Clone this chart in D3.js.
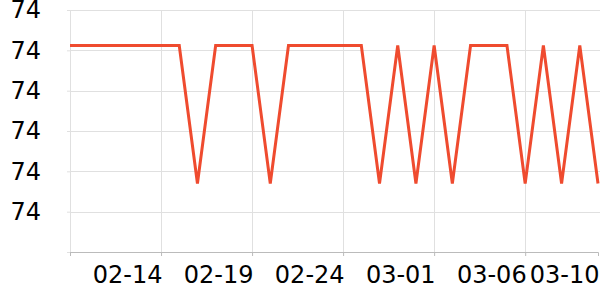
<!DOCTYPE html>
<html>
<head>
<meta charset="utf-8">
<script src="https://cdn.jsdelivr.net/npm/d3@7"></script>
<style>
  body { margin: 0; background: #fff; }
  svg { display: block; }
</style>
</head>
<body>
<svg width="600" height="300"></svg>
<script>
// daily readings, 02-09 .. 03-10
const startDate = '2021-02-09';
const values = [
  74.256, 74.256, 74.256, 74.256, 74.256, 74.256, 74.256, 74.085, 74.256, 74.256,
  74.256, 74.085, 74.256, 74.256, 74.256, 74.256, 74.256, 74.085, 74.256, 74.085,
  74.256, 74.085, 74.256, 74.256, 74.256, 74.085, 74.256, 74.085, 74.256, 74.085
];
const xTickIndex = [0, 5, 10, 15, 20, 25, 29];
const yTicks = [74.0, 74.05, 74.1, 74.15, 74.2, 74.25, 74.3];

const svg = d3.select('svg');
const margin = { top: 10, right: 2, bottom: 48, left: 70 };
const width = +svg.attr('width');
const height = +svg.attr('height');
const font = '"DejaVu Sans", sans-serif';

const parse = d3.timeParse('%Y-%m-%d');
const day0 = parse(startDate);
const data = values.map((v, i) => ({ date: d3.timeDay.offset(day0, i), value: v }));
const xTicks = xTickIndex.map(i => d3.timeDay.offset(day0, i));
const lastDate = data[data.length - 1].date;

const x = d3.scaleTime()
  .domain([day0, lastDate])
  .range([margin.left, width - margin.right]);
const y = d3.scaleLinear()
  .domain([74.0, 74.3])
  .range([height - margin.bottom, margin.top]);

// grid
svg.append('g')
    .attr('class', 'grid-y')
  .selectAll('line')
  .data(yTicks.slice(1))
  .enter().append('line')
    .attr('x1', margin.left)
    .attr('x2', width)
    .attr('y1', d => Math.round(y(d)) + 0.5)
    .attr('y2', d => Math.round(y(d)) + 0.5)
    .attr('stroke', '#e0e0e0');

svg.append('g')
    .attr('class', 'grid-x')
  .selectAll('line')
  .data(xTicks.filter(d => +d !== +lastDate))
  .enter().append('line')
    .attr('x1', d => Math.round(x(d)) + 0.5)
    .attr('x2', d => Math.round(x(d)) + 0.5)
    .attr('y1', margin.top)
    .attr('y2', height - margin.bottom)
    .attr('stroke', '#e0e0e0');

// y axis
const yAxis = svg.append('g')
  .attr('transform', `translate(${margin.left},0)`)
  .call(d3.axisLeft(y)
    .tickValues(yTicks)
    .tickSize(3)
    .tickPadding(26)
    .tickFormat((d, i) => (i === 0 ? '' : d3.format('.0f')(d))))
  .attr('font-family', font)
  .attr('font-size', 24);
yAxis.select('.domain').remove();
yAxis.selectAll('.tick line').attr('stroke', '#e0e0e0');
yAxis.selectAll('.tick text').attr('fill', '#000');

// x axis
const fmt = d3.timeFormat('%m-%d');
const xAxis = svg.append('g')
  .attr('transform', `translate(0,${height - margin.bottom})`)
  .call(d3.axisBottom(x)
    .tickValues(xTicks)
    .tickSizeOuter(0)
    .tickSize(4)
    .tickFormat((d, i) => (i === 0 ? '' : fmt(d))))
  .attr('font-family', font)
  .attr('font-size', 24);
xAxis.select('.domain').attr('stroke', '#bbb');
xAxis.selectAll('.tick line')
  .attr('stroke', '#bbb')
  .attr('opacity', d => (+d === +lastDate ? 0 : 1));
xAxis.selectAll('.tick text')
  .attr('fill', '#000')
  .attr('text-anchor', 'end')
  .attr('x', 1)
  .attr('y', 31)
  .attr('dy', null);

// line
const line = d3.line()
  .x(d => x(d.date))
  .y(d => y(d.value));

svg.append('path')
  .datum(data)
  .attr('fill', 'none')
  .attr('stroke', '#ef4b2f')
  .attr('stroke-width', 3)
  .attr('stroke-linejoin', 'miter')
  .attr('d', line);
</script>
</body>
</html>
